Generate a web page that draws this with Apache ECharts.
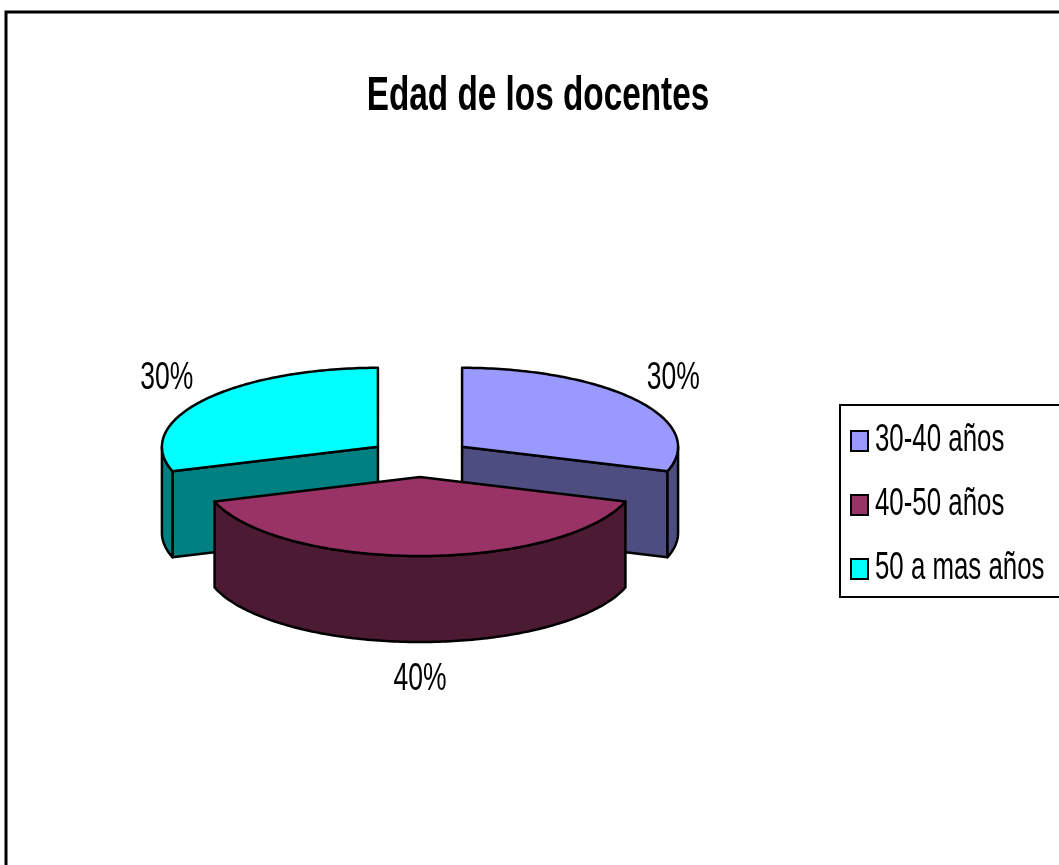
<!DOCTYPE html>
<html>
<head>
<meta charset="utf-8">
<script src="https://cdn.jsdelivr.net/npm/echarts@6/dist/echarts.min.js"></script>
<style>
  html, body { margin: 0; padding: 0; background: #fff; }
  #chart { width: 1059px; height: 865px; }
</style>
</head>
<body>
<div id="chart"></div>
<script>
const categories = ['30-40 años', '40-50 años', '50 a mas años'];
const shares = [30, 40, 30];
const topColors = ['#9999FF', '#993366', '#00FFFF'];
const sideColors = ['#4D4D80', '#4D1A33', '#008080'];
const chartTitle = 'Edad de los docentes';

// no narrow font installed, so Liberation Sans squeezed horizontally
const FONT = '"Liberation Sans", Arial, sans-serif';
const SQUEEZE = 0.68;
// pie layout (pixels): centre, ellipse radii, thickness, explode distance
const CX = 420, CY = 458, RX = 216, RY = 79, DEPTH = 86, EXPLODE = 52;

const rad = d => d * Math.PI / 180;
const total = shares.reduce((a, b) => a + b, 0);

function sliceAngles(idx, value) {
  let start = 0;
  for (let i = 0; i < idx; i++) start += shares[i];
  return [start / total * 360, (start + value) / total * 360];
}

function makeRender(idx) {
  return function (params, api) {
    const [a0, a1] = sliceAngles(idx, api.value(0));
    const mid = (a0 + a1) / 2;
    const cx = CX + EXPLODE * Math.sin(rad(mid));
    const cy = CY - EXPLODE * (RY / RX) * Math.cos(rad(mid));
    const rim = (a, dy = 0) => [cx + RX * Math.sin(rad(a)), cy - RY * Math.cos(rad(a)) + dy];
    const arc = (from, to, dy) => {
      const pts = [];
      const n = Math.max(2, Math.ceil(Math.abs(to - from)));
      for (let i = 0; i <= n; i++) pts.push(rim(from + (to - from) * i / n, dy));
      return pts;
    };
    const line = { stroke: '#000', lineWidth: 2.5, lineJoin: 'round' };
    const children = [];

    // radial side faces that face the viewer
    const faces = [];
    if (Math.sin(rad(a0)) < -1e-6) faces.push(a0);
    if (Math.sin(rad(a1)) > 1e-6) faces.push(a1);
    faces.forEach(a => {
      children.push({
        type: 'polygon', z2: 1,
        shape: { points: [[cx, cy], rim(a), rim(a, DEPTH), [cx, cy + DEPTH]] },
        style: Object.assign({ fill: sideColors[idx] }, line)
      });
    });

    // curved outer wall, front half only
    const s0 = Math.max(a0, 90), s1 = Math.min(a1, 270);
    if (s1 > s0) {
      children.push({
        type: 'polygon', z2: 2,
        shape: { points: arc(s0, s1, 0).concat(arc(s1, s0, DEPTH)) },
        style: Object.assign({ fill: sideColors[idx] }, line)
      });
    }

    // top face
    children.push({
      type: 'polygon', z2: 3,
      shape: { points: [[cx, cy]].concat(arc(a0, a1, 0)) },
      style: Object.assign({ fill: topColors[idx] }, line)
    });

    // percentage label
    const front = -Math.cos(rad(mid)) > 0.3 ? DEPTH : 0;
    const p = rim(mid, front);
    children.push({
      type: 'text', z2: 4,
      x: p[0] + 45 * Math.sin(rad(mid)),
      y: p[1] - 37 * Math.cos(rad(mid)),
      scaleX: SQUEEZE,
      style: {
        text: Math.round(api.value(0) / total * 100) + '%',
        x: 0, y: 0,
        align: 'center', verticalAlign: 'middle',
        fontSize: 39, fontFamily: FONT, fill: '#000'
      }
    });

    return { type: 'group', children: children };
  };
}

const chart = echarts.init(document.getElementById('chart'));

const series = categories.map((name, i) => {
  const [a0, a1] = sliceAngles(i, shares[i]);
  const mid = (a0 + a1) / 2;
  return {
    type: 'custom',
    name: name,
    coordinateSystem: 'none',
    z: 2 + (-Math.cos(rad(mid))),
    itemStyle: { color: topColors[i] },
    renderItem: makeRender(i),
    data: [shares[i]]
  };
});

// legend box drawn by hand so its text can be squeezed like the rest
const LEG_X = 840, LEG_Y = 405, LEG_ROW0 = 441, LEG_STEP = 64;
const legendItems = [];
categories.forEach((name, i) => {
  const y = LEG_ROW0 + i * LEG_STEP;
  legendItems.push({
    type: 'rect',
    shape: { x: LEG_X + 11, y: y - 10, width: 17, height: 20 },
    style: { fill: topColors[i], stroke: '#000', lineWidth: 2 }
  });
  legendItems.push({
    type: 'text',
    x: LEG_X + 35, y: y,
    scaleX: SQUEEZE,
    style: { text: name, x: 0, y: 0, verticalAlign: 'middle', fontSize: 38, fontFamily: FONT, fill: '#000' }
  });
});

chart.setOption({
  animation: false,
  backgroundColor: '#fff',
  graphic: [
    {
      type: 'rect', silent: true, z: -1,
      shape: { x: 6, y: 12, width: 1200, height: 1000 },
      style: { fill: 'none', stroke: '#000', lineWidth: 3 }
    },
    {
      type: 'text', silent: true,
      x: 538, y: 96,
      scaleX: SQUEEZE,
      style: {
        text: chartTitle, x: 0, y: 0,
        align: 'center', verticalAlign: 'middle',
        fontSize: 49, fontWeight: 'bold', fontFamily: FONT, fill: '#000'
      }
    },
    {
      type: 'group', silent: true,
      children: [{
        type: 'rect',
        shape: { x: LEG_X, y: LEG_Y, width: 300, height: 192 },
        style: { fill: '#fff', stroke: '#000', lineWidth: 2 }
      }].concat(legendItems)
    }
  ],
  series: series
});
</script>
</body>
</html>
